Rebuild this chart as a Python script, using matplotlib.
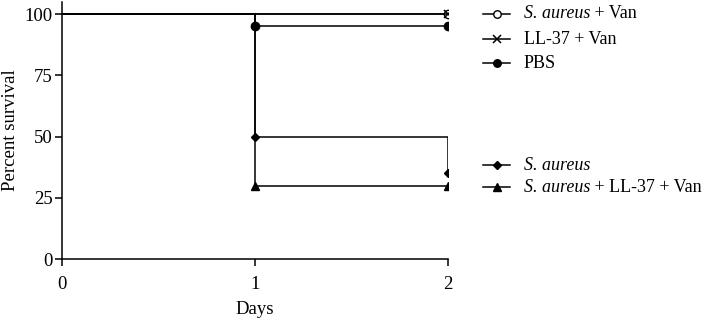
import matplotlib
matplotlib.use("Agg")
import matplotlib.pyplot as plt
from matplotlib.lines import Line2D

plt.rcParams['font.family'] = ['Liberation Serif', 'DejaVu Serif']

days = [0, 1, 2]
sa_van = [100, 100, 100]
ll37_van = [100, 100, 100]
pbs = [100, 95, 95]
sa = [100, 50, 35]
sa_ll37_van = [100, 30, 30]

# legend labels: (italic part, regular part)
legend_labels = [('S. aureus', ' + Van'), ('', 'LL-37 + Van'), ('', 'PBS'),
                 ('S. aureus', ''), ('S. aureus', ' + LL-37 + Van')]

W, H = 708, 320
fig = plt.figure(figsize=(W / 100, H / 100), dpi=100)
ax = fig.add_axes([62/W, 61/H, (448-62)/W, (259-2)/H])

kw = dict(where='post', color='black', lw=1.1)
styles = [dict(marker='o', mfc='white', mec='black', ms=6, markevery=[2]),
          dict(marker='x', mec='black', ms=6, mew=1.1, markevery=[2]),
          dict(marker='o', mfc='black', ms=6, markevery=[1, 2]),
          dict(marker='D', mfc='black', ms=4, markevery=[1, 2]),
          dict(marker='^', mfc='black', ms=6, markevery=[1, 2])]
series = [sa_van, ll37_van, pbs, sa, sa_ll37_van]
for vals, st in zip(series, styles):
    ax.step(days, vals, **kw, **st)

ax.set_xlim(0, 2)
ax.set_ylim(0, 105)
ax.set_xticks([0, 1, 2])
ax.set_yticks([0, 25, 50, 75, 100])
ax.spines['top'].set_visible(False)
ax.spines['right'].set_visible(False)
for s in ('left', 'bottom'):
    ax.spines[s].set_linewidth(1.1)
ax.tick_params(direction='out', length=5, width=1.1, labelsize=13.5)
ax.tick_params(axis='x', pad=7)
ax.tick_params(axis='y', pad=1.5)
ax.set_xlabel('Days', fontsize=13.5, labelpad=6)
ax.set_ylabel('Percent survival', fontsize=13.5, labelpad=4)

# manual legend
rows_y = [14, 39, 63, 165, 187]
for (it, reg), st, y in zip(legend_labels, styles, rows_y):
    fy = 1 - y / H
    fig.add_artist(Line2D([483/W, 510/W], [fy, fy], color='black', lw=1.1,
                          transform=fig.transFigure))
    mst = {k: v for k, v in st.items() if k != 'markevery'}
    mst['ms'] = mst['ms'] * 0.9
    fig.add_artist(Line2D([497/W], [fy], color='black', lw=0,
                          transform=fig.transFigure, **mst))
    x0 = 524 / W
    if it:
        t1 = fig.text(x0, fy, it, style='italic', fontsize=13, va='center', ha='left')
        if reg:
            ax.annotate(reg, xy=(1, 0), xycoords=t1, fontsize=13,
                        va='bottom', ha='left', annotation_clip=False)
    else:
        fig.text(x0, fy, reg, fontsize=13, va='center', ha='left')

fig.savefig('out.png', dpi=100)
